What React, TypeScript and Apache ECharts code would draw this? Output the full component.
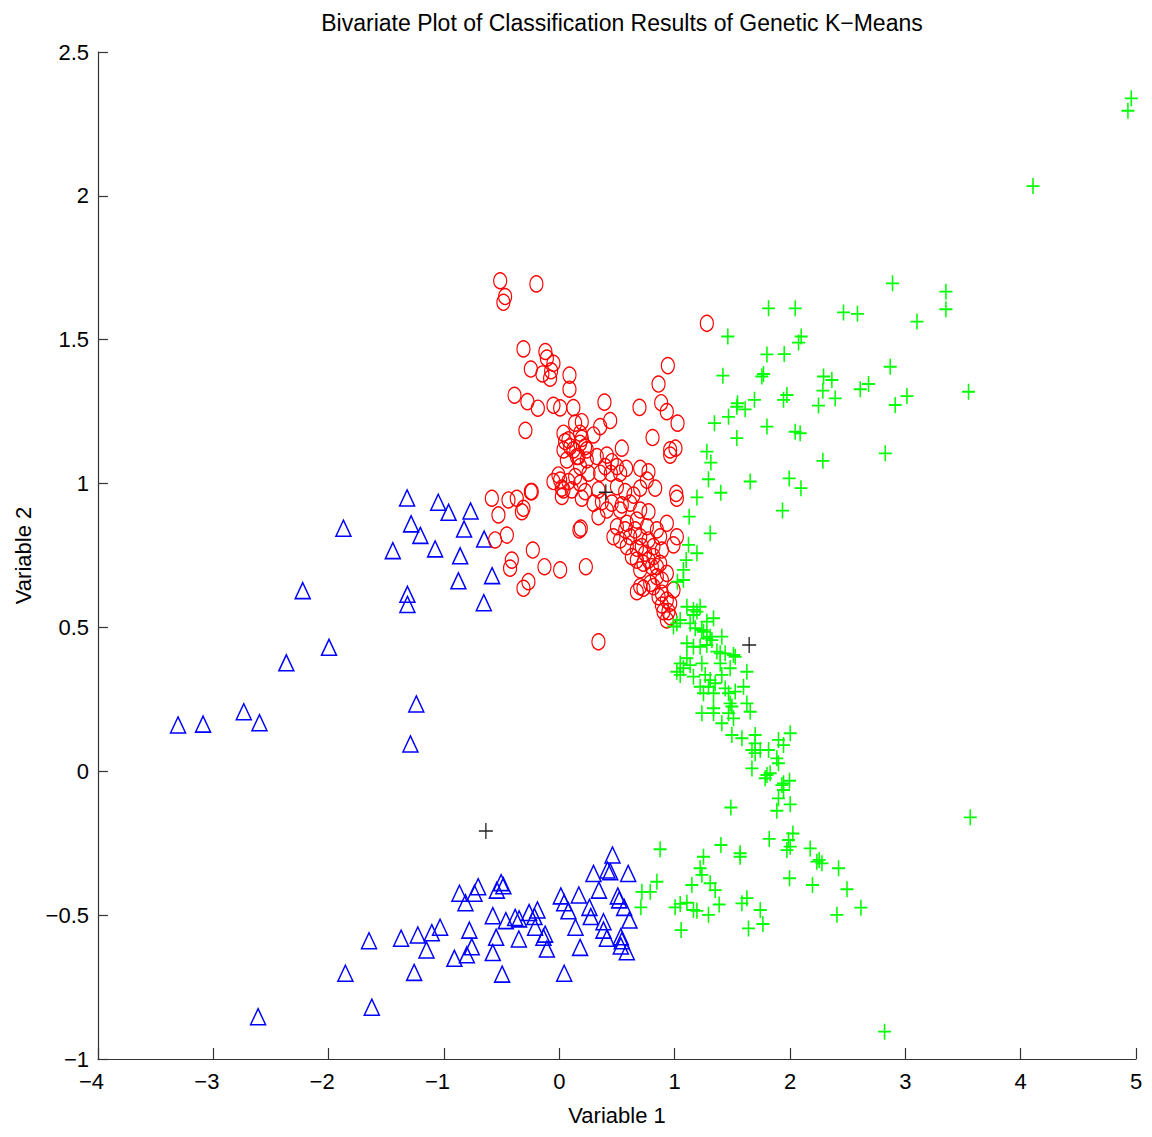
import React, { useEffect, useRef } from 'react';
import * as echarts from 'echarts';

const chartTitle = 'Bivariate Plot of Classification Results of Genetic K\u2212Means';
const xName = 'Variable 1';
const yName = 'Variable 2';
const xTicks = [-4, -3, -2, -1, 0, 1, 2, 3, 4, 5];
const yTicks = [-1, -0.5, 0, 0.5, 1, 1.5, 2, 2.5];

const clusterTriangles: number[][] = [
  [-1.32, 0.95], [-1.05, 0.935], [-0.96, 0.9], [-0.77, 0.905], [-1.285, 0.86], [-1.205, 0.82], [-0.826, 0.842],
  [-1.872, 0.845], [-1.444, 0.767], [-1.077, 0.773], [-0.652, 0.807], [-0.86, 0.749], [-0.875, 0.662], [-0.583, 0.68],
  [-0.655, 0.586], [-1.317, 0.615], [-1.317, 0.58], [-2.225, 0.628], [-1.997, 0.431], [-2.367, 0.377], [-1.24, 0.234],
  [-2.736, 0.207], [-2.6, 0.169], [-3.306, 0.161], [-3.089, 0.164], [-1.291, 0.095],
  [-2.612, -0.853], [-1.626, -0.82], [-1.855, -0.702], [-1.65, -0.589], [-1.372, -0.58], [-1.227, -0.569], [-1.106, -0.561],
  [-1.034, -0.542], [-1.152, -0.621], [-1.259, -0.699], [-0.91, -0.65], [-0.802, -0.638], [-0.759, -0.61], [-0.78, -0.552],
  [-0.866, -0.424], [-0.814, -0.457], [-0.736, -0.424], [-0.704, -0.401], [-0.542, -0.413], [-0.505, -0.387], [-0.485, -0.398],
  [-0.577, -0.502], [-0.548, -0.577], [-0.577, -0.63], [-0.496, -0.705], [-0.464, -0.519], [-0.383, -0.508], [-0.349, -0.513],
  [-0.351, -0.583], [-0.262, -0.491], [-0.19, -0.482], [-0.216, -0.505], [-0.21, -0.542], [-0.123, -0.566], [-0.138, -0.577],
  [-0.108, -0.618], [0.013, -0.433], [0.042, -0.457], [0.079, -0.485], [0.169, -0.43], [0.14, -0.542], [0.18, -0.612],
  [0.042, -0.702], [0.261, -0.473], [0.273, -0.505], [0.296, -0.355], [0.343, -0.413], [0.383, -0.523], [0.383, -0.552],
  [0.412, -0.58], [0.417, -0.343], [0.441, -0.349], [0.461, -0.291], [0.597, -0.355], [0.507, -0.433], [0.519, -0.447],
  [0.562, -0.473], [0.608, -0.517], [0.533, -0.575], [0.542, -0.589], [0.533, -0.607], [0.585, -0.627],
];

const clusterCircles: number[][] = [
  [-0.513, 1.705], [-0.47, 1.65], [-0.485, 1.63], [-0.199, 1.694], [1.279, 1.557], [-0.311, 1.468], [-0.121, 1.459],
  [-0.108, 1.436], [-0.051, 1.418], [-0.247, 1.398], [-0.147, 1.381], [-0.071, 1.392], [-0.08, 1.366], [0.088, 1.377],
  [0.088, 1.328], [0.941, 1.41], [0.86, 1.346], [-0.389, 1.307], [-0.277, 1.285], [-0.186, 1.262], [-0.051, 1.272],
  [0.007, 1.263], [0.122, 1.264], [0.391, 1.283], [0.441, 1.219], [0.695, 1.265], [0.883, 1.281], [0.932, 1.25],
  [1.025, 1.21], [-0.294, 1.185], [0.808, 1.16], [0.137, 1.21], [0.195, 1.215], [0.354, 1.198], [0.036, 1.175],
  [0.18, 1.175], [0.296, 1.169], [0.542, 1.123], [0.961, 1.117], [1.007, 1.123],
  [0.05, 1.146], [0.094, 1.128], [0.195, 1.157], [0.122, 1.117], [0.224, 1.128], [0.036, 1.117], [0.152, 1.094],
  [0.238, 1.082], [0.18, 1.059], [0.412, 1.099], [0.455, 1.076], [0.499, 1.059], [0.397, 1.059], [0.447, 1.036],
  [0.527, 1.036], [0.579, 1.053], [0.701, 1.053], [0.773, 1.041], [0.759, 1.012], [0.831, 0.984], [1.013, 0.966],
  [1.019, 0.949], [0.007, 1.012], [0.079, 1.007], [0.18, 1.001], [0.022, 0.984], [0.108, 0.978], [0.224, 0.972],
  [0.195, 0.949], [0.339, 0.978], [0.369, 0.937], [0.455, 0.932], [0.542, 0.926], [0.614, 0.932], [0.701, 0.908],
  [0.773, 0.902], [0.643, 0.96], [0.701, 0.984], [0.571, 0.972], [0.499, 0.989], [0.296, 0.932],
  [0.961, 1.099], [0.065, 1.082], [0.325, 1.094], [0.022, 0.955], [-0.239, 0.972], [0.339, 0.885], [0.412, 0.908],
  [0.527, 0.908], [0.499, 0.85], [0.585, 0.862], [0.672, 0.873], [0.759, 0.85], [0.846, 0.839], [0.932, 0.862],
  [1.019, 0.815], [0.527, 0.804], [0.614, 0.815], [0.701, 0.815], [0.773, 0.804], [0.874, 0.815], [0.585, 0.781],
  [0.672, 0.775], [0.744, 0.758], [0.816, 0.746], [0.889, 0.769], [0.99, 0.787], [0.672, 0.734], [0.729, 0.723],
  [0.802, 0.711], [0.874, 0.723], [0.701, 0.7], [0.846, 0.676], [0.932, 0.688], [0.672, 0.624], [0.729, 0.636],
  [0.788, 0.653], [0.86, 0.607], [0.889, 0.619], [0.932, 0.595], [0.961, 0.584], [0.889, 0.578], [0.946, 0.555],
  [0.932, 0.526], [0.339, 0.45], [0.186, 0.845], [0.174, 0.839], [0.23, 0.711], [0.007, 0.7], [-0.129, 0.711],
  [-0.23, 0.769], [-0.412, 0.734], [-0.427, 0.706], [-0.268, 0.659], [-0.311, 0.636], [-0.455, 0.821], [-0.557, 0.804],
  [-0.528, 0.891], [-0.585, 0.949], [-0.441, 0.943], [-0.369, 0.949], [-0.325, 0.902], [-0.311, 0.914], [-0.247, 0.972],
  [-0.051, 1.007], [-0.008, 1.03], [0.036, 0.978],
  [0.469, 0.815], [0.571, 0.839], [0.657, 0.839], [0.715, 0.781], [0.816, 0.781], [0.629, 0.746], [0.773, 0.734],
  [0.846, 0.711], [0.889, 0.665], [0.816, 0.642], [0.701, 0.642], [0.99, 0.63], [0.961, 0.537], [0.903, 0.555],
  [0.079, 1.152], [0.18, 1.14], [0.238, 1.117], [0.166, 1.094], [0.253, 1.036], [0.137, 1.024], [0.354, 1.036],
];

const clusterPluses: number[][] = [
  [4.959, 2.339], [4.93, 2.296], [4.107, 2.034],
  [2.889, 1.696], [3.352, 1.667], [3.352, 1.606], [3.101, 1.563], [1.814, 1.609], [2.045, 1.609], [2.464, 1.595],
  [2.585, 1.59], [1.461, 1.511], [2.097, 1.511], [2.074, 1.49], [1.8, 1.449], [1.95, 1.45], [1.418, 1.375],
  [1.77, 1.381], [1.756, 1.372], [2.869, 1.406], [2.291, 1.372], [2.363, 1.36], [2.681, 1.346], [2.609, 1.328],
  [3.548, 1.319], [2.285, 1.323], [1.973, 1.308], [1.944, 1.291], [3.014, 1.304], [1.692, 1.291], [1.545, 1.279],
  [1.611, 1.258], [1.539, 1.267], [2.392, 1.296], [2.247, 1.271], [2.912, 1.273], [1.467, 1.232], [1.345, 1.21],
  [1.8, 1.198], [2.045, 1.18], [2.088, 1.175], [1.539, 1.158], [1.279, 1.111], [1.314, 1.073], [2.285, 1.079],
  [2.826, 1.105], [1.293, 1.015], [1.655, 1.007], [1.4, 0.968], [1.993, 1.018], [2.095, 0.984], [1.193, 0.952],
  [1.935, 0.906], [1.126, 0.885],
  [1.308, 0.827], [1.12, 0.787], [1.193, 0.758], [1.1, 0.734], [1.076, 0.7], [1.024, 0.659], [1.076, 0.665],
  [1.106, 0.572], [1.163, 0.561], [1.193, 0.555], [1.221, 0.572], [1.048, 0.526], [1.134, 0.514], [1.279, 0.52],
  [1.337, 0.532], [1.25, 0.485], [1.308, 0.468], [1.409, 0.468], [1.106, 0.445], [1.163, 0.433], [1.279, 0.439],
  [1.366, 0.416], [1.438, 0.41], [1.51, 0.404], [0.99, 0.503],
  [1.163, 0.543], [1.019, 0.514], [1.178, 0.497], [1.236, 0.491], [1.279, 0.462], [1.323, 0.456], [1.221, 0.433],
  [1.395, 0.41], [1.525, 0.398], [1.106, 0.393], [1.048, 0.375], [1.134, 0.369], [1.236, 0.375], [1.395, 0.375],
  [1.481, 0.358], [1.626, 0.346], [1.019, 0.346], [1.076, 0.358], [1.048, 0.335], [1.163, 0.329], [1.265, 0.335],
  [1.308, 0.317], [1.409, 0.335], [1.221, 0.294], [1.293, 0.294], [1.351, 0.306], [1.438, 0.288], [1.597, 0.294],
  [1.25, 0.271], [1.337, 0.271], [1.467, 0.271], [1.525, 0.277], [1.626, 0.236], [1.481, 0.236], [1.496, 0.225],
  [1.236, 0.202], [1.337, 0.219], [1.337, 0.202], [1.467, 0.202], [1.51, 0.184], [1.655, 0.207], [1.409, 0.167],
  [1.496, 0.126], [1.583, 0.115], [1.698, 0.126], [1.698, 0.097], [1.67, 0.074], [1.698, 0.063], [1.742, 0.074],
  [1.814, 0.074], [1.9, 0.109], [1.944, 0.091], [2.002, 0.132], [1.886, 0.045], [1.67, 0.01], [1.8, -0.013],
  [1.944, -0.042],
  [1.9, 0.028], [1.828, -0.007], [1.785, -0.024], [1.996, -0.033], [1.93, -0.048], [1.944, -0.065], [1.9, -0.094],
  [2.002, -0.115], [1.886, -0.137], [1.487, -0.126], [3.563, -0.16], [1.82, -0.235], [2.025, -0.216], [1.987, -0.239],
  [2.002, -0.262], [1.973, -0.274], [2.175, -0.268], [1.401, -0.256], [1.568, -0.285], [1.568, -0.297], [1.25, -0.297],
  [0.874, -0.271], [2.253, -0.308], [2.277, -0.32], [2.233, -0.314], [2.421, -0.337], [1.221, -0.337], [1.236, -0.36],
  [0.846, -0.384], [1.149, -0.395], [1.308, -0.389], [1.351, -0.413], [0.788, -0.419], [0.716, -0.419], [1.996, -0.372],
  [2.195, -0.395], [2.494, -0.41], [0.707, -0.473], [1.004, -0.473], [1.048, -0.461], [1.106, -0.457], [1.163, -0.482],
  [1.193, -0.485], [1.293, -0.499], [1.386, -0.463], [1.583, -0.459], [1.626, -0.441], [1.742, -0.482], [1.64, -0.546],
  [1.765, -0.531], [1.056, -0.552], [2.615, -0.474], [2.407, -0.499], [2.82, -0.905],
];

const centroids: number[][] = [
  [0.403, 0.97], [1.646, 0.439], [-0.637, -0.2075],
];

const FONT = '"Liberation Sans", Arial, Helvetica, sans-serif';
const PLUS = 'path://M0,5L10,5M5,0L5,10';
const fmt = (v: number) => String(v).replace('-', '\u2212');

export default function App() {
  const ref = useRef<HTMLDivElement>(null);
  useEffect(() => {
    if (!ref.current) return;
    const chart = echarts.init(ref.current, undefined, { renderer: 'svg' });
    const hollow = (c: string, w: number) => ({ color: 'rgba(0,0,0,0)', borderColor: c, borderWidth: w, opacity: 1 });
    chart.setOption({
      animation: false,
      backgroundColor: '#ffffff',
      title: {
        text: chartTitle,
        left: 617,
        top: 6,
        textAlign: 'center',
        textStyle: { fontFamily: FONT, fontSize: 23, fontWeight: 'normal', color: '#000' },
      },
      grid: { left: 98, right: 16, top: 52, bottom: 78, containLabel: false, outerBoundsMode: 'none' },
      xAxis: {
        type: 'value',
        min: xTicks[0],
        max: xTicks[xTicks.length - 1],
        interval: 1,
        name: xName,
        nameLocation: 'middle',
        nameGap: 45,
        nameTextStyle: { fontFamily: FONT, fontSize: 22, color: '#000' },
        axisLine: { show: true, onZero: false, lineStyle: { color: '#333', width: 1.2 } },
        axisTick: { show: true, inside: true, length: 11, lineStyle: { color: '#333', width: 1.2 } },
        axisLabel: {
          margin: 11,
          fontFamily: FONT,
          fontSize: 22,
          color: '#000',
          formatter: (v: number) => (v < 0 ? `{neg|${fmt(v)}}` : fmt(v)),
          rich: { neg: { fontFamily: FONT, fontSize: 22, color: '#000', padding: [0, 13, 0, 0] } },
        },
        splitLine: { show: false },
      },
      yAxis: {
        type: 'value',
        min: yTicks[0],
        max: yTicks[yTicks.length - 1],
        interval: 0.5,
        name: yName,
        nameLocation: 'middle',
        nameGap: 64,
        nameTextStyle: { fontFamily: FONT, fontSize: 22, color: '#000' },
        axisLine: { show: true, onZero: false, lineStyle: { color: '#333', width: 1.2 } },
        axisTick: { show: true, inside: true, length: 10, lineStyle: { color: '#333', width: 1.2 } },
        axisLabel: { margin: 9, fontFamily: FONT, fontSize: 22, color: '#000', formatter: (v: number) => fmt(v) },
        splitLine: { show: false },
      },
      series: [
        {
          type: 'scatter', name: 'Cluster 1', data: clusterTriangles, symbol: 'triangle', symbolSize: [15, 16],
          itemStyle: hollow('#0000ff', 1.5), emphasis: { disabled: true }, silent: true,
        },
        {
          type: 'scatter', name: 'Cluster 2', data: clusterCircles, symbol: 'circle', symbolSize: [13, 16],
          itemStyle: hollow('#ff0000', 1.3), emphasis: { disabled: true }, silent: true,
        },
        {
          type: 'scatter', name: 'Cluster 3', data: clusterPluses, symbol: PLUS, symbolSize: [13, 16],
          itemStyle: hollow('#00ff00', 1.7), emphasis: { disabled: true }, silent: true,
        },
        {
          type: 'scatter', name: 'Centroids', data: centroids, symbol: PLUS, symbolSize: [14, 16],
          itemStyle: hollow('#222222', 1.4), emphasis: { disabled: true }, silent: true,
        },
      ],
    });
    return () => chart.dispose();
  }, []);
  return <div ref={ref} style={{ position: 'fixed', left: 0, top: 0, width: 1152, height: 1137, background: '#fff' }} />;
}
